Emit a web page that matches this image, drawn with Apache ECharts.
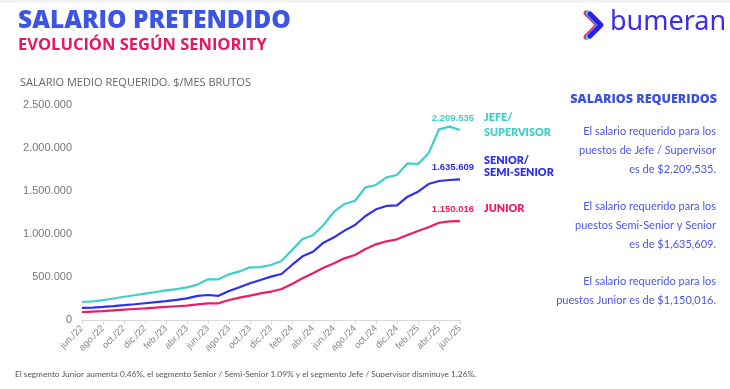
<!DOCTYPE html>
<html>
<head>
<meta charset="utf-8">
<script src="https://cdn.jsdelivr.net/npm/echarts@6/dist/echarts.min.js"></script>
<style>
html,body{margin:0;padding:0;background:#fff;}
#c{width:730px;height:389px;}
</style>
</head>
<body>
<div id="c"></div>
<script>
const months = ["jun./22","jul./22","ago./22","sep./22","oct./22","nov./22","dic./22","ene./23","feb./23","mar./23","abr./23","may./23","jun./23","jul./23","ago./23","sep./23","oct./23","nov./23","dic./23","ene./24","feb./24","mar./24","abr./24","may./24","jun./24","jul./24","ago./24","sep./24","oct./24","nov./24","dic./24","ene./25","feb./25","mar./25","abr./25","may./25","jun./25"];

const jefe = [209000,216000,232000,250000,270000,288000,306000,326000,344000,360000,380000,412000,473000,473000,531000,565000,613000,615000,640000,686000,814000,942000,985000,1105000,1259000,1349000,1387000,1543000,1570000,1659000,1686000,1822000,1814000,1938000,2217000,2248000,2209535];
const senior = [140000,145000,153000,162000,172000,183000,195000,207000,220000,235000,252000,281000,291000,281000,337000,380000,427000,465000,504000,535000,640000,740000,794000,899000,961000,1039000,1105000,1209000,1287000,1326000,1333000,1434000,1492000,1581000,1616000,1628000,1635609];
const junior = [92000,98000,104000,112000,120000,128000,136000,145000,152000,160000,167000,182000,194000,194000,233000,260000,283000,310000,329000,360000,419000,485000,543000,608000,659000,717000,756000,826000,880000,915000,938000,988000,1035000,1078000,1131000,1147000,1150016];

const seriesNames = ["JEFE/\nSUPERVISOR","SENIOR/\nSEMI-SENIOR","JUNIOR"];
const yTicks = [0,500000,1000000,1500000,2000000,2500000];

const cJefe = '#3fcfc8', cSenior = '#2b2ff0', cJunior = '#ee1c5e';

function dots(v){ return String(Math.round(v)).replace(/\B(?=(\d{3})+(?!\d))/g,'.'); }

function mkSeries(name,data,color,off,lh){
  const last = data.length-1;
  return {
    name:name,type:'line',data:data,
    symbol:'none',
    lineStyle:{color:color,width:2.2},itemStyle:{color:color},
    endLabel:{show:true,formatter:'{a}',color:color,fontWeight:800,fontSize:10.8,lineHeight:lh,fontFamily:'Lato, sans-serif',offset:off,distance:24},
    markPoint:{
      symbol:'circle',symbolSize:2,itemStyle:{color:'rgba(0,0,0,0)'},silent:true,animation:false,
      label:{show:true,position:'top',distance:6,offset:[-7,0],formatter:p=>dots(p.value),color:color,fontWeight:'bold',fontSize:9.5,fontFamily:'Liberation Sans, Arial, sans-serif'},
      data:[{coord:[months[last],data[last]],value:data[last]}]
    },
    emphasis:{disabled:true},animation:false
  };
}

const chart = echarts.init(document.getElementById('c'),null,{renderer:'canvas'});

const panelLines = [
  ["El salario requerido para los",133],
  ["puestos de Jefe / Supervisor",152],
  ["es de $2,209,535.",171],
  ["El salario requerido para los",208],
  ["puestos Semi-Senior y Senior",227],
  ["es de $1,635,609.",246],
  ["El salario requerido para los",283],
  ["puestos Junior es de $1,150,016.",302]
];

const graphics = [
  {type:'rect',left:0,top:0,shape:{width:730,height:3},style:{fill:'#f3f3f3'}},
  {type:'text',left:18,top:9,style:{text:'SALARIO PRETENDIDO',fill:'#3d55e4',font:'800 24.5px "Open Sans", sans-serif'}},
  {type:'text',left:18,top:37,style:{text:'EVOLUCIÓN SEGÚN SENIORITY',fill:'#e8175d',font:'700 16.5px "Open Sans", sans-serif'}},
  {type:'text',left:20,top:77,style:{text:'SALARIO MEDIO REQUERIDO. $/MES BRUTOS',fill:'#666',font:'400 11px "Open Sans", sans-serif'}},
  {type:'text',left:15,top:370,style:{text:'El segmento Junior aumenta 0.46%, el segmento Senior / Semi-Senior 1.09% y el segmento Jefe / Supervisor disminuye 1.26%.',fill:'#555',font:'400 8.3px Lato, sans-serif'}},
  {type:'text',right:13,top:93,style:{text:'SALARIOS REQUERIDOS',fill:'#3d50e0',font:'800 12.5px "Open Sans", sans-serif'}},
  // logo
  {type:'polyline',shape:{points:[[586,13],[598,25],[586,37]]},style:{stroke:'#f0226a',lineWidth:5,fill:null,lineJoin:'round',lineCap:'round'}},
  {type:'polyline',shape:{points:[[588,13],[600,25],[588,37]]},style:{stroke:'#39d6e0',lineWidth:5,fill:null,lineJoin:'round',lineCap:'round'}},
  {type:'polyline',shape:{points:[[590,14],[601,25],[590,36]]},style:{stroke:'#2b1ff0',lineWidth:5,fill:null,lineJoin:'round',lineCap:'round'}},
  {type:'text',left:610,top:9,style:{text:'bumeran',fill:'#3a2cf0',font:'400 27px "Noto Sans", sans-serif'}}
];
panelLines.forEach(([t,y])=>{
  graphics.push({type:'text',right:14,top:y-7,style:{text:t,fill:'#4c55e4',font:'400 11px Lato, sans-serif',textAlign:'right'}});
});

chart.setOption({
  backgroundColor:'#fff',
  animation:false,
  grid:{left:82,right:270,top:105,bottom:69,containLabel:false},
  xAxis:{
    type:'category',data:months,boundaryGap:false,
    axisLine:{lineStyle:{color:'#d9d9d9'}},
    axisTick:{show:true,interval:1,length:4,lineStyle:{color:'#d9d9d9'}},
    axisLabel:{interval:1,rotate:45,fontSize:9.5,color:'#888',margin:7,fontFamily:'Liberation Sans, Arial, sans-serif'}
  },
  yAxis:{
    type:'value',min:yTicks[0],max:yTicks[yTicks.length-1],interval:yTicks[1]-yTicks[0],
    axisLine:{show:false},axisTick:{show:false},splitLine:{show:false},
    axisLabel:{formatter:v=>dots(v),color:'#777',fontSize:11,margin:10,fontFamily:'Liberation Sans, Arial, sans-serif'}
  },
  series:[
    mkSeries(seriesNames[0],jefe,cJefe,[0,-5],15),
    mkSeries(seriesNames[1],senior,cSenior,[0,-13],12),
    mkSeries(seriesNames[2],junior,cJunior,[0,-13],12)
  ],
  graphic:graphics
});
</script>
</body>
</html>
